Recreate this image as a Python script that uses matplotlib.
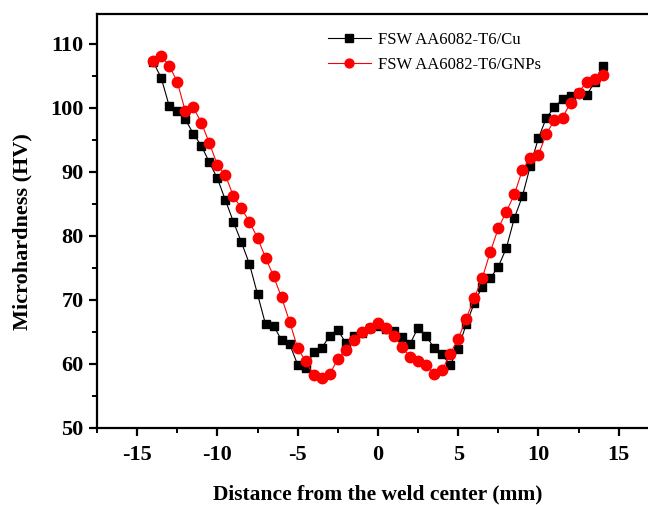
import matplotlib
matplotlib.use('Agg')
import matplotlib.pyplot as plt
from matplotlib.ticker import MultipleLocator

# distance from weld center (mm), 0.5 mm step
distance = [-14.0, -13.5, -13.0, -12.5, -12.0, -11.5, -11.0, -10.5, -10.0, -9.5,
            -9.0, -8.5, -8.0, -7.5, -7.0, -6.5, -6.0, -5.5, -5.0, -4.5,
            -4.0, -3.5, -3.0, -2.5, -2.0, -1.5, -1.0, -0.5, 0.0, 0.5,
            1.0, 1.5, 2.0, 2.5, 3.0, 3.5, 4.0, 4.5, 5.0, 5.5,
            6.0, 6.5, 7.0, 7.5, 8.0, 8.5, 9.0, 9.5, 10.0, 10.5,
            11.0, 11.5, 12.0, 12.5, 13.0, 13.5, 14.0]

hv_cu = [107.2, 104.7, 100.3, 99.5, 98.2, 96.0, 94.1, 91.5, 89.0, 85.6,
         82.2, 79.0, 75.6, 70.9, 66.2, 66.0, 63.7, 63.1, 59.9, 59.4,
         61.9, 62.5, 64.4, 65.3, 63.3, 64.4, 64.9, 65.6, 65.9, 65.5,
         65.2, 64.2, 63.1, 65.7, 64.4, 62.5, 61.5, 59.8, 62.4, 66.2,
         69.5, 72.1, 73.4, 75.2, 78.1, 82.8, 86.2, 91.0, 95.3, 98.5,
         100.1, 101.4, 101.8, 102.3, 102.0, 104.0, 106.6]

hv_gnp = [107.4, 108.1, 106.6, 104.1, 99.5, 100.1, 97.7, 94.5, 91.1, 89.5,
          86.2, 84.3, 82.2, 79.7, 76.6, 73.7, 70.4, 66.6, 62.5, 60.4,
          58.3, 57.8, 58.4, 60.8, 62.2, 63.8, 65.0, 65.7, 66.4, 65.6,
          64.4, 62.7, 61.1, 60.5, 59.8, 58.5, 59.0, 61.6, 63.9, 67.1,
          70.3, 73.4, 77.5, 81.2, 83.8, 86.5, 90.3, 92.2, 92.7, 96.0,
          98.1, 98.5, 100.8, 102.4, 104.1, 104.6, 105.2]

plt.rcParams['font.family'] = ['Liberation Serif', 'DejaVu Serif']
plt.rcParams['axes.unicode_minus'] = False

fig = plt.figure(figsize=(6.48, 5.05), dpi=100)
# right side of the frame runs past the image edge, like the original
ax = fig.add_axes([0.1497, 0.1525, 0.867, 0.820])

ax.plot(distance, hv_cu, color='black', marker='s', markersize=6.2,
        linewidth=0.8, label='FSW AA6082-T6/Cu', clip_on=False)
ax.plot(distance, hv_gnp, color='red', marker='o', markersize=7.5,
        linewidth=0.8, label='FSW AA6082-T6/GNPs', clip_on=False)

ax.set_xlim(-17.5, 17.5)
ax.set_ylim(50, 114.7)
ax.xaxis.set_major_locator(MultipleLocator(5))
ax.xaxis.set_minor_locator(MultipleLocator(2.5))
ax.yaxis.set_major_locator(MultipleLocator(10))
ax.yaxis.set_minor_locator(MultipleLocator(5))

for s in ax.spines.values():
    s.set_linewidth(1.6)
ax.tick_params(which='major', direction='out', length=6, width=1.6,
               labelsize=16, top=False, right=False)
ax.tick_params(which='minor', direction='out', length=3.5, width=1.4,
               top=False, right=False)
ax.tick_params(axis='x', pad=6)
for lab in ax.get_xticklabels() + ax.get_yticklabels():
    lab.set_fontweight('bold')

ax.set_xlabel('Distance from the weld center (mm)', fontsize=15.5,
              fontweight='bold', labelpad=14)
ax.set_ylabel('Microhardness (HV)', fontsize=16, fontweight='bold')
ax.yaxis.set_label_coords(-0.115, 0.475)

leg = ax.legend(loc='upper left', bbox_to_anchor=(0.39, 0.985), frameon=False,
                fontsize=12, handlelength=2.6, handletextpad=0.4,
                labelspacing=0.55, borderaxespad=0.3, markerscale=0.85)

fig.savefig('out.png', dpi=100)
